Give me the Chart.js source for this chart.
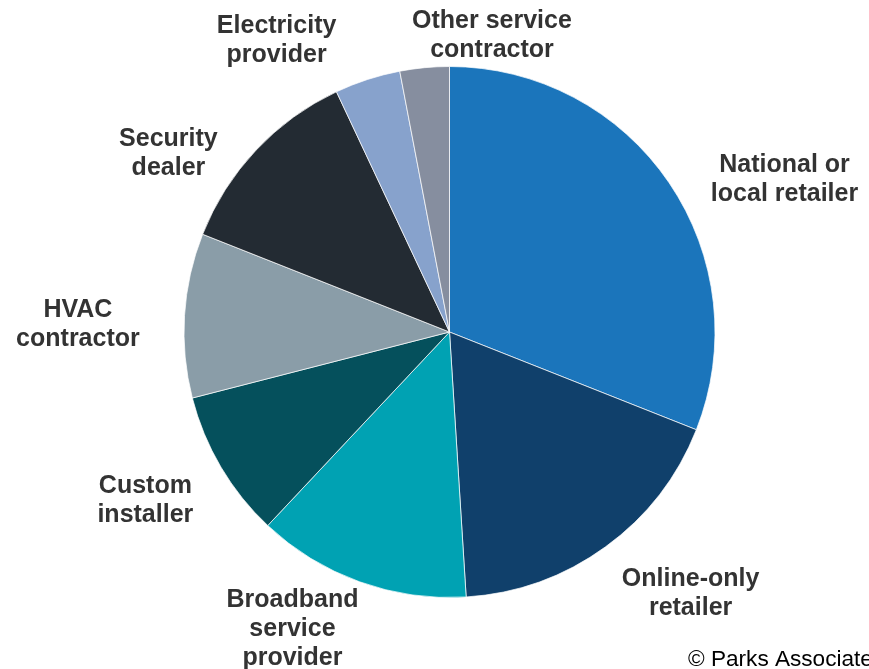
<!DOCTYPE html>
<html>
<head>
<meta charset="utf-8">
<script src="https://cdn.jsdelivr.net/npm/chart.js@4.4.1/dist/chart.umd.min.js"></script>
<style>
    html, body { margin: 0; padding: 0; background: #ffffff; }
    canvas { display: block; }
</style>
</head>
<body>
<canvas id="pie" width="869" height="669"></canvas>
<script>
    // categories, clockwise from 12 o'clock
    const categories = [
        ['National or', 'local retailer'],
        ['Online-only', 'retailer'],
        ['Broadband', 'service', 'provider'],
        ['Custom', 'installer'],
        ['HVAC', 'contractor'],
        ['Security', 'dealer'],
        ['Electricity', 'provider'],
        ['Other service', 'contractor']
    ];
    const shares = [31, 18, 13, 9, 10, 12, 4, 3];
    const sliceColors = ['#1b75bb', '#10406b', '#00a2b3', '#05505c', '#8a9da8', '#232b33', '#87a2cc', '#868e9f'];

    // label placement around each slice: angle nudge (deg) and distance in radii
    const labelNudge = [9.4, -6.9, 8.2, 1.9, -2.1, -10.5, -12.5, 13.5];
    const labelDist = [1.39, 1.334, 1.26, 1.306, 1.40, 1.258, 1.283, 1.135];

    const outsideLabels = {
        id: 'outsideLabels',
        afterDatasetsDraw(chart) {
            const ctx = chart.ctx;
            const meta = chart.getDatasetMeta(0);
            const fontSize = 25;
            const lineHeight = 29;
            ctx.save();
            ctx.font = 'bold ' + fontSize + 'px "Liberation Sans", Arial, sans-serif';
            ctx.fillStyle = '#333333';
            ctx.textAlign = 'center';
            ctx.textBaseline = 'alphabetic';
            meta.data.forEach((arc, i) => {
                const p = arc.getProps(['x', 'y', 'startAngle', 'endAngle', 'outerRadius'], true);
                const a = (p.startAngle + p.endAngle) / 2 + labelNudge[i] * Math.PI / 180;
                const cx = p.x + Math.cos(a) * p.outerRadius * labelDist[i];
                const cy = p.y + Math.sin(a) * p.outerRadius * labelDist[i];
                const lines = categories[i];
                lines.forEach((line, k) => {
                    const ly = cy + (k - (lines.length - 1) / 2) * lineHeight;
                    ctx.fillText(line, cx, ly + fontSize * 0.358);
                });
            });
            ctx.font = '22.6px "Liberation Sans", Arial, sans-serif';
            ctx.fillStyle = '#000000';
            ctx.textAlign = 'left';
            ctx.fillText('\u00a9 Parks Associates', 688, 666);
            ctx.restore();
        }
    };

    new Chart(document.getElementById('pie').getContext('2d'), {
        type: 'pie',
        data: {
            labels: categories,
            datasets: [{
                data: shares,
                backgroundColor: sliceColors,
                borderColor: 'rgba(255,255,255,0.7)',
                borderWidth: 1
            }]
        },
        options: {
            responsive: false,
            animation: false,
            layout: {
                padding: { top: 66, bottom: 71, left: 183, right: 153 }
            },
            plugins: {
                legend: { display: false },
                tooltip: { enabled: false }
            }
        },
        plugins: [outsideLabels]
    });
</script>
</body>
</html>
